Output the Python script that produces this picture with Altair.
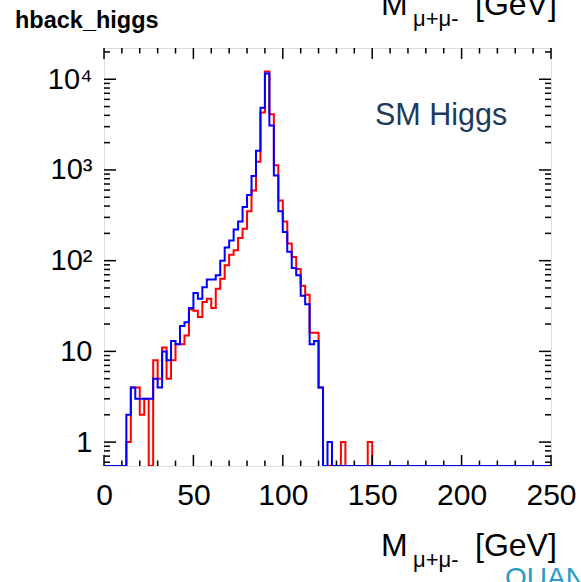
import altair as alt
import pandas as pd

# ---------------- data ----------------
BIN_WIDTH = 2.5          # GeV, 100 bins from 0 to 250
N_BINS = 100
blue_counts = [0, 0, 0, 0, 0, 2, 4, 3, 3, 3,
               3, 5, 4, 10, 8, 13, 12, 19, 21, 30,
               44, 38, 51, 62, 62, 69, 100, 140, 167, 220,
               270, 390, 530, 860, 1630, 4850, 11600, 3100, 870, 350,
               207, 125, 83, 69, 41, 33, 12, 13, 4, 0,
               1] + [0] * 49
red_counts = [0, 0, 0, 0, 0, 1, 4, 4, 2, 3,
              0, 8, 5, 11, 5, 8, 12, 12, 15, 29,
              28, 24, 35, 38, 30, 49, 63, 89, 116, 130,
              178, 225, 350, 595, 1230, 4300, 12200, 4100, 1130, 460,
              270, 155, 110, 81, 53, 42, 16, 16, 4, 0,
              0, 0, 0, 1, 0, 0, 0, 0, 0, 1] + [0] * 40

x_major = [0, 50, 100, 150, 200, 250]
x_minor = [v for v in range(0, 251, 10) if v % 50 != 0]
y_major = [1, 10, 100, 1000, 10000]
y_minor = [m * d for d in [0.1, 1, 10, 100, 1000, 10000] for m in range(2, 10)]

title_main = "M"
title_sub = "\u03bc+\u03bc-"
title_unit = "[GeV]"
hist_name = "hback_higgs"
legend_text = "SM Higgs"
watermark = "QUANTUM"

# ---------------- layout ----------------
W, H = 447, 418
YDOM = [0.545, 22100]
FONT = "Liberation Sans"

rows = []
for name, counts in (("red", red_counts), ("blue", blue_counts)):
    for k in range(N_BINS):
        rows.append({"series": name, "x": k * BIN_WIDTH, "n": counts[k]})
    rows.append({"series": name, "x": N_BINS * BIN_WIDTH, "n": counts[-1]})
hist = pd.DataFrame(rows)

xscale = alt.Scale(domain=[0, 250], nice=False, zero=False)
yscale = alt.Scale(type="log", domain=YDOM, clamp=True, nice=False)

x_axis = alt.Axis(values=x_major, ticks=False, domain=False, grid=False, title=None,
                  labelFontSize=30, labelFont=FONT, labelColor="black",
                  labelPadding=14, tickSize=0, labelFlush=False)
y_axis = alt.Axis(values=y_major, ticks=False, domain=False, grid=False, title=None,
                  labelFontSize=29, labelFont=FONT, labelColor="black",
                  labelPadding=12, tickSize=0, labelFlush=False,
                  labelExpr="datum.value == 10000 ? '10\u2074' : datum.value == 1000 ? '10\u00b3' : datum.value == 100 ? '10\u00b2' : datum.label")


def line(color):
    return alt.Chart(hist).transform_filter(
        alt.datum.series == color
    ).transform_calculate(
        yc="max(datum.n, 0.01)"
    ).mark_line(interpolate="step-after", color=color, strokeWidth=2, clip=True).encode(
        x=alt.X("x:Q", scale=xscale, axis=x_axis),
        y=alt.Y("yc:Q", scale=yscale, axis=y_axis),
    )


def xticks(vals, length):
    df = pd.DataFrame({"x": vals})
    b = alt.Chart(df).mark_rule(color="black", strokeWidth=1.5).encode(
        x=alt.X("x:Q", scale=xscale, axis=x_axis), y=alt.value(H), y2=alt.value(H - length))
    t = alt.Chart(df).mark_rule(color="black", strokeWidth=1.5).encode(
        x=alt.X("x:Q", scale=xscale, axis=x_axis), y=alt.value(0), y2=alt.value(length))
    return [b, t]


def yticks(vals, length):
    df = pd.DataFrame({"v": [v for v in vals if YDOM[0] <= v <= YDOM[1]]})
    l = alt.Chart(df).mark_rule(color="black", strokeWidth=1.5).encode(
        y=alt.Y("v:Q", scale=yscale, axis=y_axis), x=alt.value(0), x2=alt.value(length))
    r = alt.Chart(df).mark_rule(color="black", strokeWidth=1.5).encode(
        y=alt.Y("v:Q", scale=yscale, axis=y_axis), x=alt.value(W), x2=alt.value(W - length))
    return [l, r]


def label(text, x, y, size, color="black", weight="normal", align="left", baseline="alphabetic"):
    df = pd.DataFrame({"t": [text]})
    return alt.Chart(df).mark_text(
        font=FONT, fontSize=size, color=color, fontWeight=weight,
        align=align, baseline=baseline
    ).encode(x=alt.value(x), y=alt.value(y), text="t:N")


layers = [line("red"), line("blue")]
layers += xticks(x_major, 11) + xticks(x_minor, 5.5)
layers += yticks(y_major, 12) + yticks(y_minor, 6)

# texts (positions relative to the plot origin)
layers += [
    label(hist_name, -89, -20, 23.5, weight="bold"),
    label(legend_text, 271, 68, 30.5, color="#1c3a5e", baseline="middle"),
    label(title_main, 277, 508, 32),
    label(title_sub, 309, 519, 22),
    label(title_unit, 371, 508, 32),
    label(title_main, 277, -33, 32),
    label(title_sub, 309, -22, 22),
    label(title_unit, 371, -33, 32),
    label(watermark, 401, 539, 28, color="#2a9bc6"),
]

chart = alt.layer(*layers).properties(
    width=W, height=H,
    padding={"left": 104, "top": 48, "right": 30, "bottom": 116},
    autosize=alt.AutoSizeParams(type="none"),
).configure_view(stroke="black", strokeWidth=2).configure(background="white")

chart.save("out.html", embed_options={"renderer": "svg", "actions": False})
